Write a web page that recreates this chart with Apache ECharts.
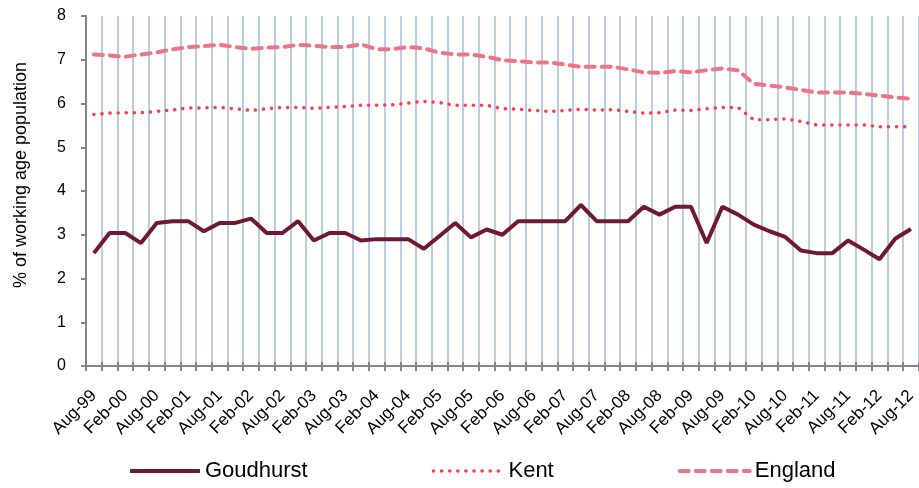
<!DOCTYPE html>
<html>
<head>
<meta charset="utf-8">
<script src="https://cdn.jsdelivr.net/npm/echarts@6/dist/echarts.min.js"></script>
<style>
  html, body { margin: 0; padding: 0; background: #fff; }
  #chart { width: 919px; height: 488px; }
</style>
</head>
<body>
<div id="chart"></div>
<script>
  var quarters = [
    'Aug-99', 'Nov-99', 'Feb-00', 'May-00', 'Aug-00', 'Nov-00', 'Feb-01', 'May-01',
    'Aug-01', 'Nov-01', 'Feb-02', 'May-02', 'Aug-02', 'Nov-02', 'Feb-03', 'May-03',
    'Aug-03', 'Nov-03', 'Feb-04', 'May-04', 'Aug-04', 'Nov-04', 'Feb-05', 'May-05',
    'Aug-05', 'Nov-05', 'Feb-06', 'May-06', 'Aug-06', 'Nov-06', 'Feb-07', 'May-07',
    'Aug-07', 'Nov-07', 'Feb-08', 'May-08', 'Aug-08', 'Nov-08', 'Feb-09', 'May-09',
    'Aug-09', 'Nov-09', 'Feb-10', 'May-10', 'Aug-10', 'Nov-10', 'Feb-11', 'May-11',
    'Aug-11', 'Nov-11', 'Feb-12', 'May-12', 'Aug-12'
  ];

  var goudhurst = [
    2.58, 3.04, 3.04, 2.81, 3.27, 3.31, 3.31, 3.08, 3.27, 3.27, 3.37, 3.04, 3.04, 3.31,
    2.87, 3.04, 3.04, 2.87, 2.90, 2.90, 2.90, 2.68, 2.97, 3.27, 2.94, 3.12, 3.00, 3.31,
    3.31, 3.31, 3.31, 3.68, 3.31, 3.31, 3.31, 3.64, 3.46, 3.64, 3.64, 2.81, 3.64, 3.46,
    3.23, 3.08, 2.95, 2.64, 2.58, 2.58, 2.87, 2.66, 2.44, 2.91, 3.13
  ];

  var kent = [
    5.75, 5.78, 5.79, 5.79, 5.82, 5.85, 5.90, 5.90, 5.91, 5.88, 5.84, 5.88, 5.91, 5.91,
    5.89, 5.91, 5.93, 5.96, 5.96, 5.97, 6.01, 6.05, 6.02, 5.96, 5.96, 5.96, 5.88, 5.87,
    5.84, 5.82, 5.84, 5.87, 5.85, 5.86, 5.82, 5.78, 5.79, 5.85, 5.84, 5.88, 5.91, 5.91,
    5.63, 5.63, 5.65, 5.59, 5.51, 5.51, 5.51, 5.51, 5.47, 5.47, 5.47
  ];

  var england = [
    7.12, 7.10, 7.07, 7.12, 7.17, 7.24, 7.29, 7.31, 7.34, 7.29, 7.25, 7.28, 7.29, 7.34,
    7.32, 7.29, 7.29, 7.35, 7.24, 7.24, 7.29, 7.26, 7.16, 7.12, 7.12, 7.07, 6.99, 6.97,
    6.94, 6.94, 6.89, 6.84, 6.84, 6.84, 6.78, 6.71, 6.70, 6.74, 6.71, 6.76, 6.80, 6.76,
    6.45, 6.41, 6.37, 6.31, 6.25, 6.25, 6.25, 6.22, 6.18, 6.14, 6.11
  ];

  var font = 'Liberation Sans, Arial, sans-serif';

  var chartDom = document.getElementById('chart');
  var myChart = echarts.init(chartDom);

  var option = {
    animation: false,
    textStyle: { fontFamily: font },
    grid: {
      left: 86,
      right: -4,
      top: 16,
      bottom: 122
    },
    legend: {
      left: 128,
      top: 460,
      padding: 0,
      itemWidth: 70,
      itemHeight: 14,
      itemGap: 124,
      itemStyle: { opacity: 0 },
      lineStyle: { width: 'inherit' },
      textStyle: { fontSize: 22, color: '#000', fontFamily: font },
      data: ['Goudhurst', 'Kent', 'England']
    },
    xAxis: [
      {
        type: 'category',
        boundaryGap: true,
        data: quarters,
        axisLine: { lineStyle: { color: '#868686', width: 2 } },
        axisTick: { show: true, interval: 0, length: 5, lineStyle: { color: '#868686', width: 2 } },
        axisLabel: {
          interval: 1,
          rotate: 45,
          margin: 27,
          fontSize: 17,
          color: '#000',
          fontFamily: font
        },
        splitLine: {
          show: true,
          interval: 0,
          lineStyle: { color: '#B9CDE5', width: 2 }
        }
      },
      {
        type: 'category',
        position: 'bottom',
        boundaryGap: true,
        data: quarters,
        axisLine: { show: false },
        axisTick: { show: true, interval: 0, inside: true, length: 4, lineStyle: { color: '#868686', width: 2 } },
        axisLabel: { show: false },
        splitLine: { show: false }
      }
    ],
    yAxis: {
      type: 'value',
      min: 0,
      max: 8,
      interval: 1,
      name: '% of working age population',
      nameLocation: 'middle',
      nameGap: 56,
      nameTextStyle: { fontSize: 18, color: '#000', fontFamily: font, padding: [0, 0, 0, 32] },
      axisLine: { show: true, lineStyle: { color: '#868686', width: 2 } },
      axisTick: { show: true, length: 5, lineStyle: { color: '#868686', width: 2 } },
      axisLabel: { fontSize: 16, color: '#000', margin: 20, fontFamily: font },
      splitLine: { show: false }
    },
    series: [
      {
        name: 'Goudhurst',
        type: 'line',
        data: goudhurst,
        symbol: 'none',
        color: '#6F1A31',
        lineStyle: { color: '#6F1A31', width: 4 }
      },
      {
        name: 'Kent',
        type: 'line',
        data: kent,
        symbol: 'none',
        color: '#FF3C4B',
        lineStyle: { color: '#FF3C4B', width: 3.5, type: [0.1, 8], cap: 'round' }
      },
      {
        name: 'England',
        type: 'line',
        data: england,
        symbol: 'none',
        color: '#EF7487',
        lineStyle: { color: '#EF7487', width: 4, type: [9, 7], cap: 'round' }
      }
    ]
  };

  option && myChart.setOption(option);
</script>
</body>
</html>
